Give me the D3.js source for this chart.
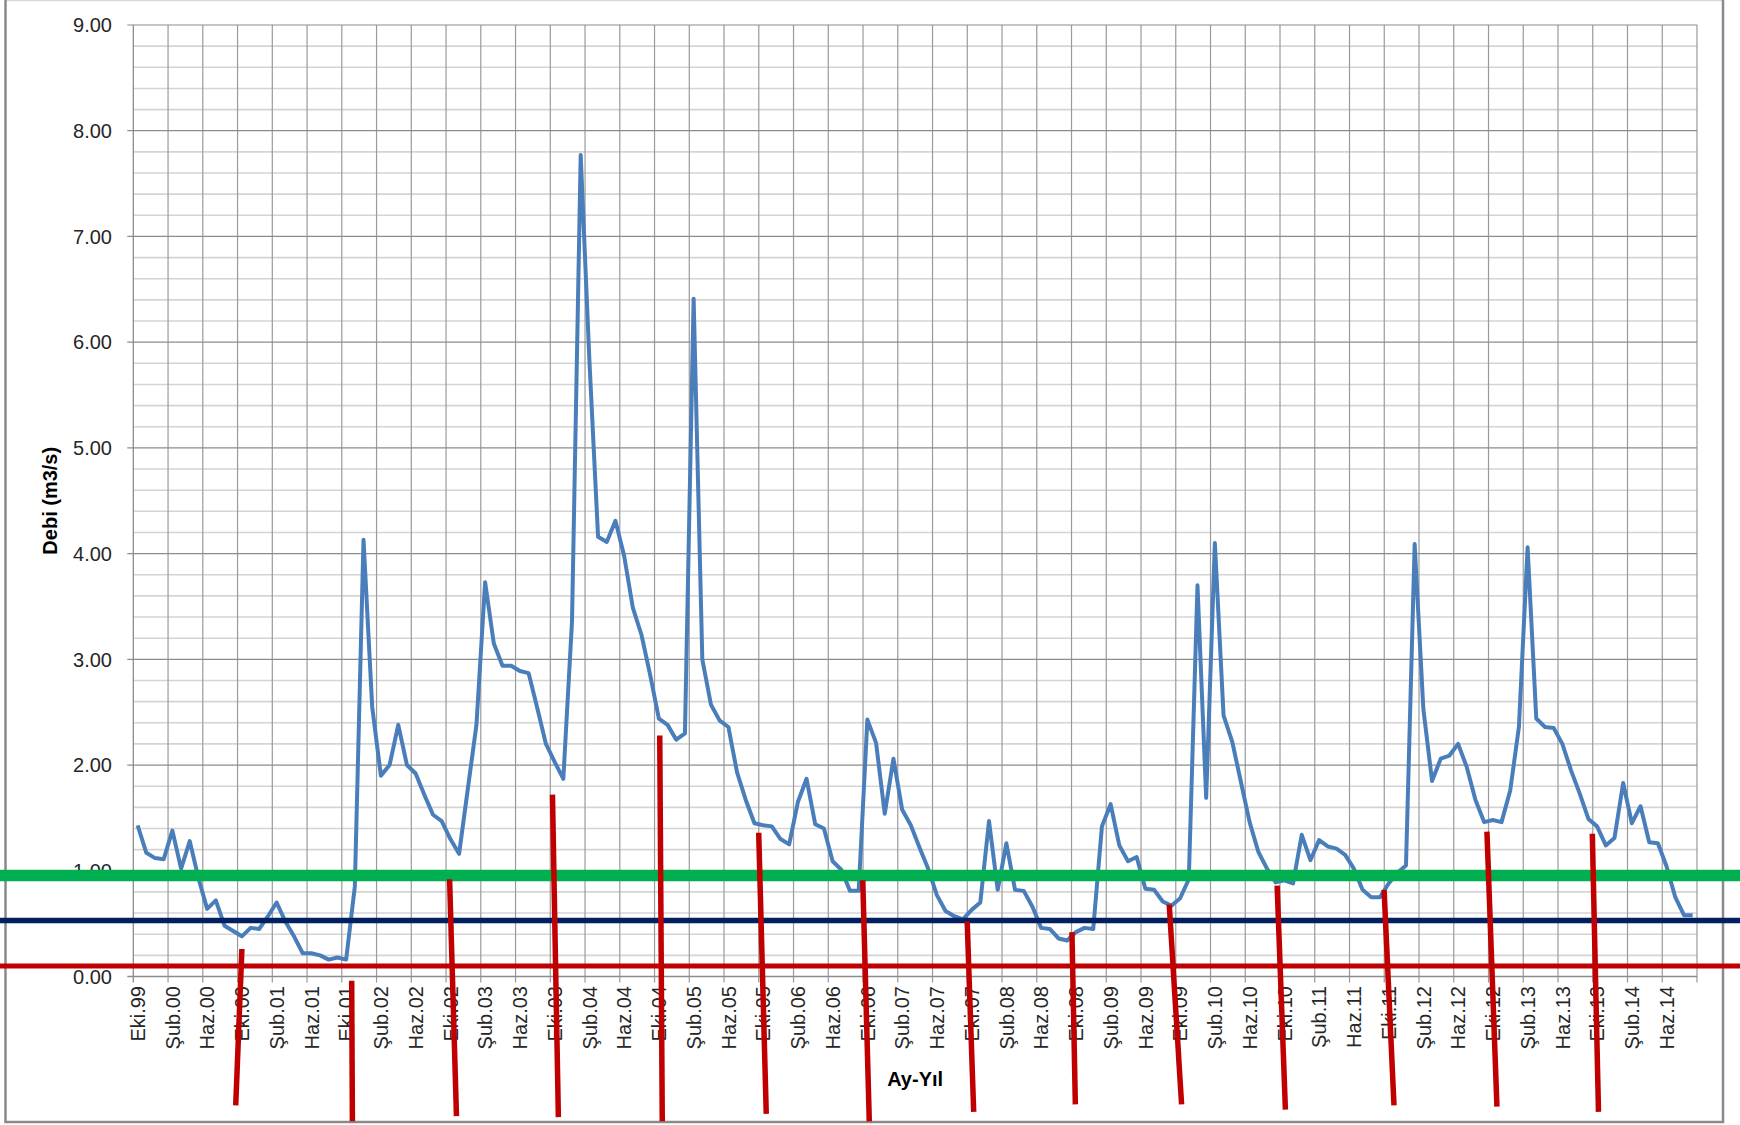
<!DOCTYPE html>
<head>
<meta charset="utf-8">
<script src="https://d3js.org/d3.v7.min.js"></script>
<style>
body { margin:0; background:#fff; }
text { font-family: "Liberation Sans", Arial, sans-serif; fill:#262626; }
.baslik { font-weight:bold; font-size:20px; fill:#000; }
</style>
</head>
<body>
<div id="grafik"></div>
<script>
// aylar (Türkçe kısaltmalar) ve başlangıç
var ayAdlari = ["Oca","Şub","Mar","Nis","May","Haz","Tem","Ağu","Eyl","Eki","Kas","Ara"];
var baslangicYil = 1999, baslangicAy = 9;   // Ekim 1999

// aylık ortalama debi (m3/s), Eki.99 - Eyl.14
var debi = [
 1.43,1.17,1.12,1.11,1.38,1.02,1.28,0.93,0.64,0.72,0.48,0.43,
 0.38,0.46,0.45,0.57,0.70,0.52,0.38,0.22,0.22,0.20,0.16,0.18,
 0.16,0.85,4.13,2.55,1.90,2.00,2.38,2.00,1.92,1.72,1.53,1.47,
 1.30,1.16,1.77,2.38,3.73,3.15,2.94,2.94,2.89,2.87,2.54,2.20,
 2.03,1.87,3.36,7.77,5.83,4.16,4.11,4.31,3.98,3.49,3.23,2.85,
 2.44,2.38,2.24,2.30,6.41,3.00,2.57,2.42,2.36,1.93,1.67,1.45,
 1.43,1.42,1.30,1.25,1.65,1.87,1.44,1.40,1.09,1.01,0.81,0.81,
 2.43,2.21,1.54,2.06,1.58,1.43,1.22,1.02,0.77,0.62,0.57,0.54,
 0.63,0.70,1.47,0.82,1.26,0.82,0.81,0.66,0.46,0.45,0.36,0.34,
 0.42,0.46,0.45,1.42,1.63,1.24,1.09,1.13,0.83,0.82,0.71,0.67,
 0.74,0.92,3.70,1.69,4.10,2.47,2.22,1.84,1.46,1.18,1.02,0.89,
 0.91,0.88,1.34,1.10,1.29,1.23,1.21,1.15,1.02,0.82,0.75,0.75,
 0.88,0.98,1.05,4.09,2.53,1.85,2.06,2.09,2.20,1.98,1.67,1.46,
 1.48,1.46,1.76,2.36,4.06,2.44,2.36,2.35,2.20,1.95,1.73,1.49,
 1.42,1.24,1.31,1.83,1.45,1.61,1.27,1.26,1.04,0.75,0.58,0.58
];

var yTicks = [0,1,2,3,4,5,6,7,8,9];

// yatay eşik çizgileri (m3/s)
var esikDegerleri = [0.955, 0.53, 0.10];

// her Ekim ayına elle çizilmiş kırmızı işaret çizgileri
var ekimIndeks   = [12,24,36,48,60,72,84,96,108,120,132,144,156,168];
var ekimUst      = [0.26,-0.04,0.92,1.72,2.28,1.36,0.91,0.52,0.42,0.68,0.86,0.82,1.37,1.35];
var ekimAlt      = [-1.22,-1.37,-1.32,-1.33,-1.37,-1.30,-1.37,-1.28,-1.21,-1.21,-1.26,-1.22,-1.23,-1.28];
var ekimUstKayma = [0.0,0.64,-0.09,-0.25,0.10,-0.51,-0.53,-0.51,-0.45,-1.25,-0.83,-0.52,-0.68,-0.55];
var ekimAltKayma = [-0.71,0.72,0.70,0.43,0.39,0.36,0.22,0.24,-0.06,0.17,0.12,0.62,0.47,0.16];

var W = 1740, H = 1125;
var margin = {left:133.3, right:W-1697, top:25, bottom:H-976.5};

var etiketler = debi.map(function(d,i){
    var m = baslangicAy + i;
    var yil = baslangicYil + Math.floor(m/12);
    return ayAdlari[m%12] + "." + String(yil%100).padStart(2,"0");
});

var svg = d3.select("#grafik").append("svg")
    .attr("width", W).attr("height", H);

var x = d3.scaleBand()
    .domain(d3.range(debi.length))
    .range([margin.left, W - margin.right])
    .padding(0);

var y = d3.scaleLinear()
    .domain([0, 9])
    .range([H - margin.bottom, margin.top]);

var cx = function(i){ return x(i) + x.bandwidth()/2; };

// dış çerçeve
svg.append("line").attr("x1",5).attr("x2",1723).attr("y1",0.5).attr("y2",0.5)
    .attr("stroke","#d9d9d9").attr("stroke-width",1.5);
svg.append("path")
    .attr("d","M5.5,0 V1122 H1723 V0")
    .attr("fill","none").attr("stroke","#8a8a8a").attr("stroke-width",2.5);

var g = svg.append("g");

// ara yatay ızgara (0.2)
var ara = d3.range(0, 9.001, 0.2).filter(function(v){ return Math.abs(v - Math.round(v)) > 0.01; });
g.selectAll(".minor").data(ara).enter().append("line")
    .attr("x1", margin.left).attr("x2", W - margin.right)
    .attr("y1", function(d){ return y(d); }).attr("y2", function(d){ return y(d); })
    .attr("stroke", "#d4d4d4").attr("stroke-width", 1.6);

// dikey ızgara: her 4 ayda bir
var dikey = d3.range(4, debi.length + 1, 4);
g.selectAll(".vgrid").data(dikey).enter().append("line")
    .attr("x1", function(d){ return margin.left + d * x.step(); })
    .attr("x2", function(d){ return margin.left + d * x.step(); })
    .attr("y1", y(9)).attr("y2", y(0) + 6)
    .attr("stroke", "#9a9a9a").attr("stroke-width", 1.2);

// ana yatay ızgara
g.selectAll(".major").data(yTicks.slice(1)).enter().append("line")
    .attr("x1", margin.left - 6).attr("x2", W - margin.right)
    .attr("y1", function(d){ return y(d); }).attr("y2", function(d){ return y(d); })
    .attr("stroke", "#8c8c8c").attr("stroke-width", 1.2);

// eksen çizgileri
g.append("line").attr("x1", margin.left).attr("x2", margin.left)
    .attr("y1", y(9)).attr("y2", y(0) + 6)
    .attr("stroke", "#8c8c8c").attr("stroke-width", 1.3);
g.append("line").attr("x1", margin.left - 6).attr("x2", W - margin.right)
    .attr("y1", y(0)).attr("y2", y(0))
    .attr("stroke", "#8c8c8c").attr("stroke-width", 1.3);

// y ekseni etiketleri
g.selectAll(".ytxt").data(yTicks).enter().append("text")
    .attr("x", 112).attr("y", function(d){ return y(d); })
    .attr("dy", "0.36em").attr("text-anchor", "end")
    .style("font-size", "20px")
    .text(function(d){ return d3.format(".2f")(d); });

// x ekseni etiketleri (dikey)
g.selectAll(".xtxt").data(d3.range(0, debi.length, 4)).enter().append("text")
    .attr("transform", function(d){ return "translate(" + cx(d) + "," + 986 + ") rotate(-90)"; })
    .attr("dy", "0.36em").attr("text-anchor", "end")
    .style("font-size", "20px")
    .text(function(d){ return etiketler[d]; });

// eksen başlıkları
svg.append("text").attr("class","baslik")
    .attr("transform", "translate(" + 50 + "," + (margin.top + (y(0)-margin.top)/2) + ") rotate(-90)")
    .attr("dy", "0.36em").attr("text-anchor", "middle")
    .text("Debi (m3/s)");
svg.append("text").attr("class","baslik")
    .attr("x", (margin.left + W - margin.right)/2).attr("y", 1079)
    .attr("dy", "0.36em").attr("text-anchor", "middle")
    .text("Ay-Yıl");

// debi serisi
var cizgi = d3.line()
    .x(function(d,i){ return cx(i); })
    .y(function(d){ return y(d); });
g.append("path").datum(debi)
    .attr("d", cizgi)
    .attr("fill", "none")
    .attr("stroke", "#4a7ebb")
    .attr("stroke-width", 4)
    .attr("stroke-linejoin", "round");

// eşik çizgileri
var esikRenk = ["#00b050", "#002060", "#c00000"];
var esikKalinlik = [11.5, 5.5, 5];
svg.selectAll(".esik").data(esikDegerleri).enter().append("line")
    .attr("x1", 0).attr("x2", W)
    .attr("y1", function(d){ return y(d); }).attr("y2", function(d){ return y(d); })
    .attr("stroke", function(d,i){ return esikRenk[i]; })
    .attr("stroke-width", function(d,i){ return esikKalinlik[i]; });

// Ekim işaretleri
svg.selectAll(".ekim").data(ekimIndeks).enter().append("line")
    .attr("x1", function(d,i){ return cx(d) + ekimUstKayma[i] * x.step(); })
    .attr("y1", function(d,i){ return y(ekimUst[i]); })
    .attr("x2", function(d,i){ return cx(d) + ekimAltKayma[i] * x.step(); })
    .attr("y2", function(d,i){ return y(ekimAlt[i]); })
    .attr("stroke", "#c00000")
    .attr("stroke-width", 5.5);
</script>
</body>
